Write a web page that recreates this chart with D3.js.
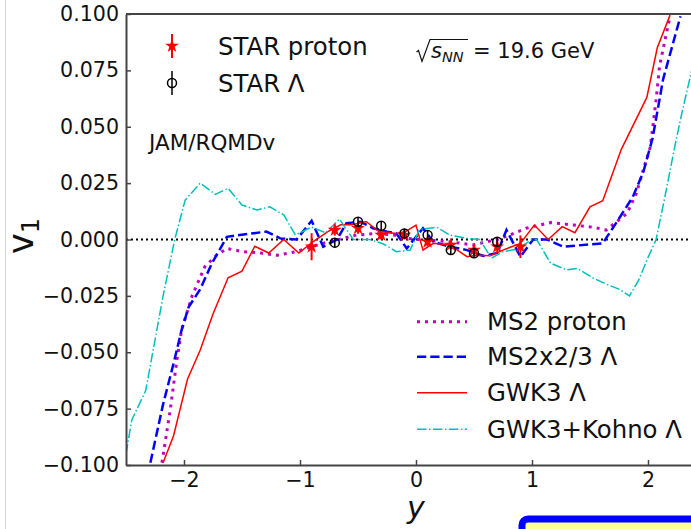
<!DOCTYPE html>
<html>
<head>
<meta charset="utf-8">
<script src="https://cdn.jsdelivr.net/npm/d3@7"></script>
<style>
  body { margin: 0; background: #fff; }
  svg { display: block; font-family: "DejaVu Sans", sans-serif; }
</style>
</head>
<body>
<div id="chart"></div>
<script>
// model curves, [rapidity, v1]
const ms2Proton = [[-2.19,-0.099],[-2.12,-0.076],[-2.06,-0.053],[-2.02,-0.040],[-1.93,-0.025],[-1.82,-0.012],[-1.72,-0.007],[-1.63,-0.004],[-1.49,-0.0054],[-1.34,-0.006],[-1.20,-0.007],[-1.03,-0.0054],[-0.89,-0.003],[-0.75,-0.001],[-0.63,0.0005],[-0.51,0.002],[-0.34,0.0027],[-0.19,0.002],[-0.08,0.0005],[0.03,0.0],[0.29,-0.001],[0.49,-0.0024],[0.70,0.0],[0.81,0.002],[0.95,0.005],[1.16,0.0075],[1.36,0.0064],[1.53,0.0054],[1.64,0.0042],[1.82,0.0116],[1.90,0.0205],[1.96,0.031],[2.02,0.041],[2.07,0.062],[2.10,0.077],[2.19,0.099]];
const ms2Lambda = [[-2.29,-0.099],[-2.18,-0.073],[-2.09,-0.055],[-2.02,-0.040],[-1.96,-0.030],[-1.86,-0.022],[-1.76,-0.0106],[-1.63,0.0012],[-1.52,0.002],[-1.29,0.0035],[-1.17,0.0005],[-1.03,0.0],[-0.90,0.0083],[-0.80,-0.0032],[-0.68,0.0],[-0.60,0.0072],[-0.48,0.0079],[-0.37,0.005],[-0.25,0.0035],[-0.17,0.0027],[-0.08,-0.004],[0.06,0.005],[0.15,-0.001],[0.29,-0.0032],[0.44,-0.0047],[0.58,-0.0073],[0.70,-0.006],[0.78,0.0042],[0.90,-0.0076],[1.01,0.0],[1.13,0.0],[1.27,-0.0032],[1.61,-0.0017],[1.76,0.0101],[1.87,0.019],[1.96,0.030],[2.04,0.045],[2.13,0.071],[2.28,0.099]];
const gwk3Lambda = [[-2.18,-0.099],[-2.09,-0.087],[-1.97,-0.062],[-1.86,-0.049],[-1.75,-0.033],[-1.62,-0.017],[-1.50,-0.014],[-1.39,-0.003],[-1.27,-0.006],[-1.14,0.0],[-1.01,-0.006],[-0.89,-0.001],[-0.76,0.0035],[-0.65,0.0065],[-0.55,0.0065],[-0.43,0.008],[-0.32,0.0035],[-0.17,0.0027],[-0.09,0.0035],[0.0,0.0064],[0.06,-0.0047],[0.15,-0.0017],[0.29,-0.0024],[0.44,-0.0076],[0.52,-0.007],[0.64,-0.0072],[0.75,-0.0047],[0.90,-0.0017],[1.02,0.0064],[1.14,0.0],[1.26,0.0057],[1.37,0.003],[1.50,0.0145],[1.61,0.0172],[1.77,0.040],[1.99,0.063],[2.08,0.085],[2.19,0.0995]];
const kohnoLambda = [[-2.5,-0.095],[-2.45,-0.080],[-2.33,-0.067],[-2.18,-0.025],[-2.08,0.0],[-1.99,0.0175],[-1.86,0.025],[-1.73,0.020],[-1.62,0.0227],[-1.50,0.0153],[-1.37,0.0131],[-1.26,0.0145],[-1.14,0.0109],[-1.04,0.002],[-0.90,0.0055],[-0.78,0.003],[-0.66,0.009],[-0.54,0.0],[-0.40,0.0],[-0.28,-0.002],[-0.17,-0.0054],[-0.05,-0.0047],[0.03,0.0045],[0.18,0.0054],[0.29,0.002],[0.44,0.0005],[0.55,0.0],[0.65,-0.0083],[0.75,-0.0054],[0.87,-0.0043],[1.0,0.0],[1.04,0.0],[1.16,-0.0105],[1.30,-0.0135],[1.39,-0.0128],[1.53,-0.0172],[1.65,-0.020],[1.75,-0.022],[1.84,-0.025],[1.92,-0.018],[2.0,-0.008],[2.07,0.0],[2.15,0.02],[2.23,0.041],[2.30,0.058],[2.40,0.080]];

// STAR data
const protonY = [-0.9,-0.7,-0.5,-0.3,-0.1,0.1,0.3,0.5,0.7,0.9];
const protonV1 = [-0.0032,0.0042,0.005,0.002,0.002,-0.001,-0.0024,-0.0047,-0.0032,-0.0032];
const protonErr = [0.006,0.0025,0.0025,0.002,0.002,0.002,0.002,0.0025,0.0025,0.005];
const lambdaY = [-0.7,-0.5,-0.3,-0.1,0.1,0.3,0.5,0.7];
const lambdaV1 = [-0.0014,0.0079,0.0061,0.0027,0.002,-0.0047,-0.0061,-0.001];
const lambdaErr = [0.002,0.002,0.002,0.002,0.002,0.002,0.002,0.002];

const xTicks = [-2,-1,0,1,2];
const yTicks = [-0.1,-0.075,-0.05,-0.025,0,0.025,0.05,0.075,0.1];

const W = 691, H = 529;
const pLeft = 126, pTop = 14, pRight = 706, pBottom = 465;
const axisColor = "#444";

const svg = d3.select("#chart").append("svg")
  .attr("width", W).attr("height", H);

// faint page border on the left
svg.append("line").attr("x1", 5.5).attr("x2", 5.5).attr("y1", 0).attr("y2", H)
  .attr("stroke", "#d4d4d4").attr("stroke-width", 1);

const x = d3.scaleLinear().domain([-2.5, 2.5]).range([pLeft, pRight]);
const y = d3.scaleLinear().domain([-0.1, 0.1]).range([pBottom, pTop]);

svg.append("defs").append("clipPath").attr("id", "clip")
  .append("rect").attr("x", pLeft).attr("y", pTop)
  .attr("width", pRight - pLeft).attr("height", pBottom - pTop);

const plot = svg.append("g").attr("clip-path", "url(#clip)");

// zero line
plot.append("line")
  .attr("x1", x(-2.5)).attr("x2", x(2.5))
  .attr("y1", y(0)).attr("y2", y(0))
  .attr("stroke", "#000").attr("stroke-width", 2)
  .attr("stroke-dasharray", "2,3");

const line = d3.line().x(d => x(d[0])).y(d => y(d[1]));

const curves = [
  {data: ms2Proton, color: "#bf00bf", width: 3, dash: "3,5", label: "MS2 proton"},
  {data: ms2Lambda, color: "#0000ff", width: 2.5, dash: "9.25,4", label: "MS2x2/3 \u039b"},
  {data: gwk3Lambda, color: "#ff0000", width: 1.5, dash: null, label: "GWK3 \u039b"},
  {data: kohnoLambda, color: "#00bfbf", width: 1.5, dash: "9.6,2.4,1.5,2.4", label: "GWK3+Kohno \u039b"}
];

curves.forEach(c => {
  plot.append("path").datum(c.data)
    .attr("d", line)
    .attr("fill", "none")
    .attr("stroke", c.color)
    .attr("stroke-width", c.width)
    .attr("stroke-dasharray", c.dash);
});

const star = d3.symbol().type(d3.symbolStar).size(60);

// STAR proton
protonY.forEach((v, i) => {
  plot.append("line")
    .attr("x1", x(v)).attr("x2", x(v))
    .attr("y1", y(protonV1[i] - protonErr[i])).attr("y2", y(protonV1[i] + protonErr[i]))
    .attr("stroke", "#ff0000").attr("stroke-width", 2);
  plot.append("path").attr("d", star)
    .attr("transform", `translate(${x(v)},${y(protonV1[i])})`)
    .attr("fill", "#ff0000");
});

// STAR Lambda
lambdaY.forEach((v, i) => {
  plot.append("line")
    .attr("x1", x(v)).attr("x2", x(v))
    .attr("y1", y(lambdaV1[i] - lambdaErr[i])).attr("y2", y(lambdaV1[i] + lambdaErr[i]))
    .attr("stroke", "#000").attr("stroke-width", 1.5);
  plot.append("circle")
    .attr("cx", x(v)).attr("cy", y(lambdaV1[i])).attr("r", 4.5)
    .attr("fill", "none").attr("stroke", "#000").attr("stroke-width", 1.5);
});

// axes (ticks point inward)
const yAxis = svg.append("g")
  .attr("transform", `translate(${pLeft},0)`)
  .call(d3.axisLeft(y).tickValues(yTicks).tickFormat(d3.format(".3f"))
    .tickSizeInner(-5).tickSizeOuter(0).tickPadding(7));
const xAxis = svg.append("g")
  .attr("transform", `translate(0,${pBottom})`)
  .call(d3.axisBottom(x).tickValues(xTicks).tickFormat(d3.format("d"))
    .tickSizeInner(-5).tickSizeOuter(0).tickPadding(7));

[yAxis, xAxis].forEach(a => {
  a.selectAll(".domain").attr("stroke", axisColor).attr("stroke-width", 2);
  a.selectAll(".tick line").attr("stroke", axisColor).attr("stroke-width", 1.5);
  a.selectAll(".tick text").attr("fill", "#111")
    .style("font-size", "20.6px").style("font-family", "DejaVu Sans");
});

svg.append("line").attr("x1", pLeft).attr("x2", pRight).attr("y1", pTop).attr("y2", pTop)
  .attr("stroke", axisColor).attr("stroke-width", 2);

// axis titles
svg.append("text")
  .attr("x", x(0)).attr("y", 518)
  .attr("text-anchor", "middle")
  .style("font-size", "30px").style("font-style", "italic")
  .attr("fill", "#111")
  .text("y");

const vlab = svg.append("text")
  .attr("transform", "translate(33,236) rotate(-90)")
  .attr("text-anchor", "middle")
  .style("font-size", "35px")
  .attr("fill", "#111");
vlab.append("tspan").text("v");
vlab.append("tspan").attr("dy", 6).style("font-size", "24px").text("1");

// top-left legend
const topLegend = [
  {label: "STAR proton", ly: 46, type: "proton"},
  {label: "STAR \u039b", ly: 83, type: "lambda"}
];
topLegend.forEach(d => {
  const g = svg.append("g");
  if (d.type === "proton") {
    g.append("line").attr("x1", 172).attr("x2", 172).attr("y1", d.ly - 12).attr("y2", d.ly + 12)
      .attr("stroke", "#ff0000").attr("stroke-width", 2);
    g.append("path").attr("d", star).attr("transform", `translate(172,${d.ly})`).attr("fill", "#ff0000");
  } else {
    g.append("line").attr("x1", 172).attr("x2", 172).attr("y1", d.ly - 12).attr("y2", d.ly + 12)
      .attr("stroke", "#000").attr("stroke-width", 1.5);
    g.append("circle").attr("cx", 172).attr("cy", d.ly).attr("r", 4.5)
      .attr("fill", "none").attr("stroke", "#000").attr("stroke-width", 1.5);
  }
  g.append("text").attr("x", 218).attr("y", d.ly + 8.5)
    .style("font-size", "24.4px").attr("fill", "#111").text(d.label);
});

svg.append("text").attr("x", 149).attr("y", 150)
  .style("font-size", "21.5px").attr("fill", "#111").text("JAM/RQMDv");

// sqrt(s_NN) annotation
svg.append("path")
  .attr("d", "M416.5,52 L418.5,50.5 L422,61.5 L430,39.5 L468,39.5")
  .attr("fill", "none").attr("stroke", "#111").attr("stroke-width", 1.2);
const en = svg.append("text").attr("x", 431).attr("y", 58)
  .style("font-size", "21px").attr("fill", "#111");
en.append("tspan").style("font-style", "italic").text("s");
en.append("tspan").attr("dy", 4).style("font-style", "italic").style("font-size", "14.5px").text("NN");
en.append("tspan").attr("x", 473).attr("y", 58).text("= 19.6 GeV");

// bottom-right legend
const legRows = [321.7, 356.7, 392.7, 429.3];
curves.forEach((c, i) => {
  svg.append("line").attr("x1", 417).attr("x2", 467)
    .attr("y1", legRows[i]).attr("y2", legRows[i])
    .attr("stroke", c.color).attr("stroke-width", c.width)
    .attr("stroke-dasharray", c.dash);
  svg.append("text").attr("x", 487).attr("y", legRows[i] + 8.5)
    .style("font-size", "24.4px").attr("fill", "#111").text(c.label);
});

// yellow box peeking in at the bottom right
svg.append("rect").attr("x", 522).attr("y", 519).attr("width", 200).attr("height", 60)
  .attr("rx", 6).attr("fill", "#ffff99").attr("stroke", "#0000ff").attr("stroke-width", 7);
</script>
</body>
</html>
